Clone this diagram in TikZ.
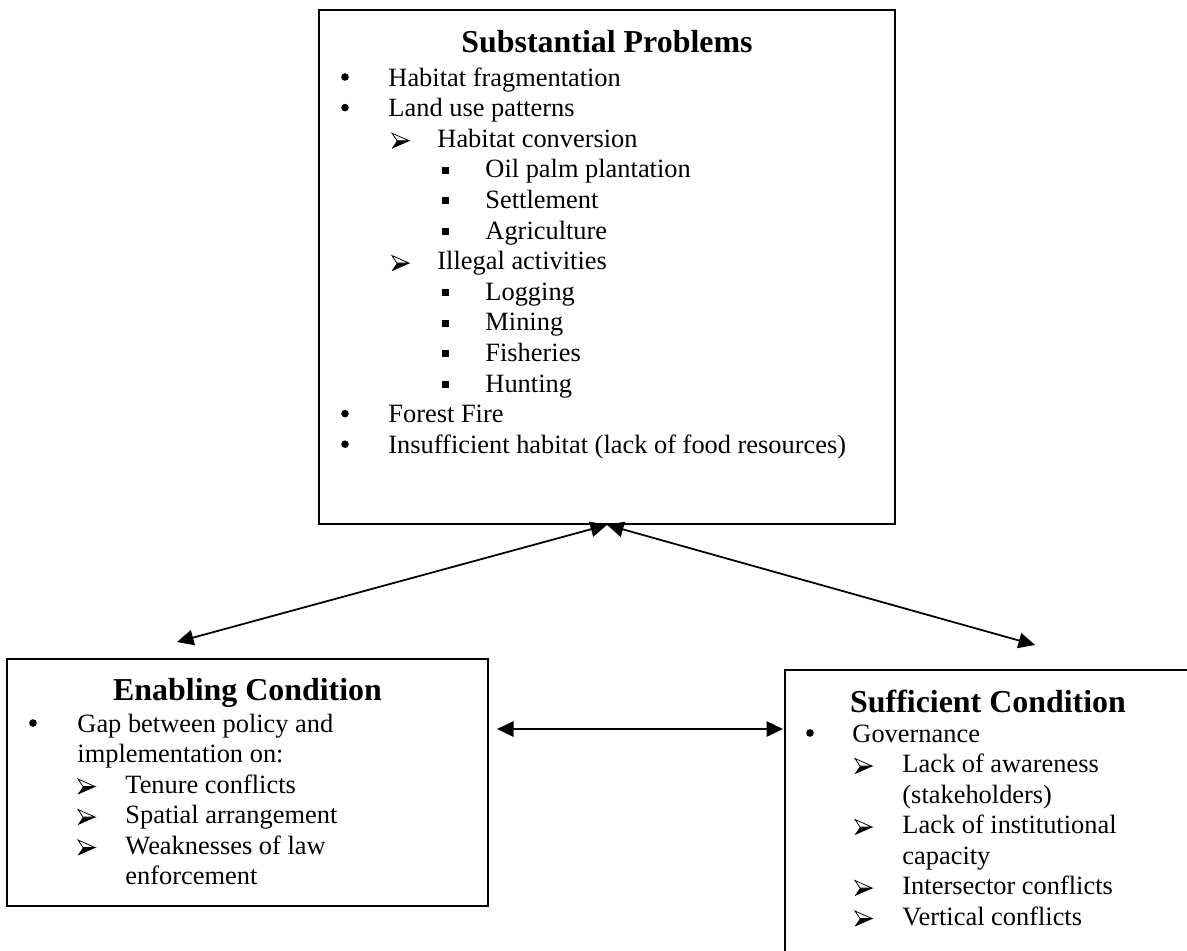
\documentclass[tikz,border=0pt]{standalone}
\usepackage{fontspec}
\setmainfont{Liberation Serif}
\usetikzlibrary{arrows.meta,fit}
\tikzset{
  boxs/.style={draw, line width=0.8pt, inner sep=0pt},
  txt/.style={anchor=base west, inner sep=0pt, font=\fontsize{12}{14}\selectfont},
  ttl/.style={anchor=base, inner sep=0pt, font=\fontsize{14.5}{17}\selectfont\bfseries},
  conn/.style={line width=0.8pt, {Triangle[length=7.5pt,width=7pt]}-{Triangle[length=7.5pt,width=7pt]}},
  dotb/.pic={\fill (0,-9) circle[radius=3.8];},
  sqb/.pic={\fill (0,-11) rectangle (7,-4);},
  arrb/.pic={
    \fill[black] (5,-6.5) -- (17,-6.5) -- (0,1) -- cycle;
    \filldraw[fill=white, draw=black, line width=0.35pt, line join=miter] (0,-14) -- (17,-6.5) -- (5,-6.5) -- cycle;
    \draw[line width=0.35pt] (0,1) -- (17,-6.5);
  }
}
\begin{document}
\begin{tikzpicture}[x=0.4545pt, y=-0.4545pt]
\useasboundingbox (0,0) rectangle (1187,950);
\clip (0,0) rectangle (1187,950);

% ---------- boxes ----------
\node[boxs, fit={(319,10) (895,524)}] (top) {};
\node[boxs, fit={(7,659) (488,906)}] (left) {};
\node[boxs, fit={(785,670) (1200,970)}] (right) {};

% ---------- top box ----------
\node[ttl] (ttop) at (607,52) {Substantial Problems};
\pic at (345,86) {dotb};
\node[txt] (a1) at (388,86) {Habitat fragmentation};
\pic at (345,116.6) {dotb};
\node[txt] (a2) at (388,116.6) {Land use patterns};
\pic at (392,147.2) {arrb};
\node[txt] (a3) at (437,147.2) {Habitat conversion};
\pic at (442,177.8) {sqb};
\node[txt] (a4) at (485,177.8) {Oil palm plantation};
\pic at (442,208.4) {sqb};
\node[txt] (a5) at (485,208.4) {Settlement};
\pic at (442,239) {sqb};
\node[txt] (a6) at (485,239) {Agriculture};
\pic at (392,269.6) {arrb};
\node[txt] (a7) at (437,269.6) {Illegal activities};
\pic at (442,300.2) {sqb};
\node[txt] (a8) at (485,300.2) {Logging};
\pic at (442,330.8) {sqb};
\node[txt] (a9) at (485,330.8) {Mining};
\pic at (442,361.4) {sqb};
\node[txt] (a10) at (485,361.4) {Fisheries};
\pic at (442,392) {sqb};
\node[txt] (a11) at (485,392) {Hunting};
\pic at (345,422.6) {dotb};
\node[txt] (a12) at (388,422.6) {Forest Fire};
\pic at (345,453.2) {dotb};
\node[txt] (a13) at (388,453.2) {Insufficient habitat (lack of food resources)};

% ---------- left box ----------
\node[ttl] (tleft) at (247.5,700) {Enabling Condition};
\pic at (33,732) {dotb};
\node[txt] (b1) at (77,732) {Gap between policy and};
\node[txt] (b2) at (77,762.5) {implementation on:};
\pic at (78,793) {arrb};
\node[txt] (b3) at (125,793) {Tenure conflicts};
\pic at (78,823.5) {arrb};
\node[txt] (b4) at (125,823.5) {Spatial arrangement};
\pic at (78,854) {arrb};
\node[txt] (b5) at (125,854) {Weaknesses of law};
\node[txt] (b6) at (125,884.5) {enforcement};

% ---------- right box ----------
\node[ttl] (tright) at (988,712) {Sufficient Condition};
\pic at (810,742) {dotb};
\node[txt] (c1) at (852,742) {Governance};
\pic at (855,772.5) {arrb};
\node[txt] (c2) at (902,772.5) {Lack of awareness};
\node[txt] (c3) at (902,803) {(stakeholders)};
\pic at (855,833.5) {arrb};
\node[txt] (c4) at (902,833.5) {Lack of institutional};
\node[txt] (c5) at (902,864) {capacity};
\pic at (855,894.5) {arrb};
\node[txt] (c6) at (902,894.5) {Intersector conflicts};
\pic at (855,925) {arrb};
\node[txt] (c7) at (902,925) {Vertical conflicts};

% ---------- connectors ----------
\coordinate (lend) at (177,642);
\coordinate (rend) at (1035,645);
\coordinate (hl) at (497,729);
\coordinate (hr) at (783,729);
\draw[conn] (top.south) -- (lend);
\draw[conn] (top.south) -- (rend);
\draw[conn] (hl) -- (hr);
\end{tikzpicture}
\end{document}
